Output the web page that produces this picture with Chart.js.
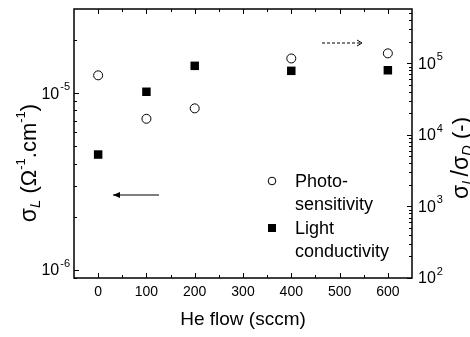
<!DOCTYPE html>
<html>
<head>
<meta charset="utf-8">
<script src="https://cdn.jsdelivr.net/npm/chart.js@4/dist/chart.umd.min.js"></script>
<style>
  html, body { margin: 0; padding: 0; background: #fff; }
  #wrap { width: 470px; height: 337px; }
</style>
</head>
<body>
<div id="wrap"><canvas id="c" width="470" height="337"></canvas></div>
<script>
// He flow values (sccm)
const heFlow = [0, 100, 200, 400, 600];
// light conductivity sigma_L (left axis)
const lightCond = [4.5e-6, 1.02e-5, 1.43e-5, 1.34e-5, 1.35e-5];
// photosensitivity sigma_L/sigma_D (right axis)
const photoSens = [6.8e4, 1.68e4, 2.35e4, 1.17e5, 1.38e5];

const xTicks = [0, 100, 200, 300, 400, 500, 600];
const leftExps = [-6, -5];
const rightExps = [2, 3, 4, 5];

const FONT = '"Liberation Sans", Arial, sans-serif';

// draws "10" with a raised exponent
function drawPow(ctx, exp, x, y, align) {
  ctx.save();
  ctx.textBaseline = 'middle';
  ctx.font = '16px ' + FONT;
  const base = '10';
  const sup = String(exp);
  const bw = ctx.measureText(base).width;
  ctx.font = '11px ' + FONT;
  const sw = ctx.measureText(sup).width;
  let x0 = align === 'right' ? x - bw - sw - 1 : x;
  ctx.font = '16px ' + FONT;
  ctx.textAlign = 'left';
  ctx.fillText(base, x0, y);
  ctx.font = '11px ' + FONT;
  ctx.fillText(sup, x0 + bw + 1, y - 7);
  ctx.restore();
}

function arrow(ctx, x1, x2, y, dashed) {
  ctx.save();
  ctx.strokeStyle = '#000';
  ctx.fillStyle = '#000';
  ctx.lineWidth = 1;
  if (dashed) ctx.setLineDash([3, 2]);
  ctx.beginPath();
  ctx.moveTo(x1, y);
  ctx.lineTo(x2, y);
  ctx.stroke();
  ctx.setLineDash([]);
  const d = x2 > x1 ? 1 : -1;
  ctx.beginPath();
  if (dashed) {
    ctx.moveTo(x2 - d * 5, y - 3);
    ctx.lineTo(x2, y);
    ctx.lineTo(x2 - d * 5, y + 3);
    ctx.stroke();
  } else {
    ctx.moveTo(x2, y);
    ctx.lineTo(x2 - d * 7, y - 3);
    ctx.lineTo(x2 - d * 7, y + 3);
    ctx.closePath();
    ctx.fill();
  }
  ctx.restore();
}

function richText(ctx, parts, cx0, cy, rotate) {
  ctx.save();
  ctx.translate(cx0, cy);
  if (rotate) ctx.rotate(-Math.PI / 2);
  ctx.textAlign = 'left';
  ctx.textBaseline = 'middle';
  let total = 0;
  parts.forEach(p => { ctx.font = p[1] + 'px ' + FONT; total += ctx.measureText(p[0]).width; });
  let cx = -total / 2;
  parts.forEach(p => {
    ctx.font = (p[3] ? 'italic ' : '') + p[1] + 'px ' + FONT;
    ctx.fillText(p[0], cx, p[2]);
    cx += ctx.measureText(p[0]).width;
  });
  ctx.restore();
}

const framePlugin = {
  id: 'frame',
  afterDraw(chart) {
    const ctx = chart.ctx;
    const a = chart.chartArea;
    const sx = chart.scales.x, sl = chart.scales.yL, sr = chart.scales.yR;
    ctx.save();
    ctx.strokeStyle = '#000';
    ctx.fillStyle = '#000';
    ctx.lineWidth = 1.5;
    ctx.strokeRect(a.left, a.top, a.right - a.left, a.bottom - a.top);
    ctx.lineWidth = 1;

    // x ticks, bottom and top
    ctx.beginPath();
    for (let v = -50; v <= 650; v += 50) {
      const px = Math.round(sx.getPixelForValue(v)) + 0.5;
      if (px <= a.left + 1 || px >= a.right - 1) continue;
      const len = v % 100 === 0 ? 5 : 3;
      ctx.moveTo(px, a.bottom); ctx.lineTo(px, a.bottom - len);
      ctx.moveTo(px, a.top); ctx.lineTo(px, a.top + len);
    }
    ctx.stroke();
    ctx.font = '14px ' + FONT;
    ctx.textAlign = 'center';
    ctx.textBaseline = 'middle';
    xTicks.forEach(v => ctx.fillText(String(v), sx.getPixelForValue(v), 292));

    // left ticks
    ctx.beginPath();
    for (let e = -7; e <= -4; e++) {
      for (let m = 1; m <= 9; m++) {
        const v = m * Math.pow(10, e);
        if (v < sl.min || v > sl.max) continue;
        const py = Math.round(sl.getPixelForValue(v)) + 0.5;
        const len = m === 1 ? 5 : 3;
        ctx.moveTo(a.left, py); ctx.lineTo(a.left + len, py);
      }
    }
    ctx.stroke();
    leftExps.forEach(e => drawPow(ctx, e, a.left - 4, sl.getPixelForValue(Math.pow(10, e)) + 1, 'right'));

    // right ticks
    ctx.beginPath();
    for (let e = 2; e <= 5; e++) {
      for (let m = 1; m <= 9; m++) {
        const v = m * Math.pow(10, e);
        if (v < sr.min || v > sr.max) continue;
        const py = Math.round(sr.getPixelForValue(v)) + 0.5;
        const len = m === 1 ? 5 : 3;
        ctx.moveTo(a.right, py); ctx.lineTo(a.right - len, py);
      }
    }
    ctx.stroke();
    rightExps.forEach(e => drawPow(ctx, e, a.right + 6, sr.getPixelForValue(Math.pow(10, e)) + 1, 'left'));

    // axis titles
    ctx.font = '19px ' + FONT;
    ctx.textAlign = 'center';
    ctx.fillText('He flow (sccm)', (a.left + a.right) / 2, 320);

    richText(ctx, [['σ', 23, 0], ['L', 15, 6, true], [' (Ω', 22, 0], ['-1', 13, -9], ['.cm', 22, 0], ['-1', 13, -9], [')', 22, 0]], 30, 163, true);
    richText(ctx, [['σ', 23, 0], ['L', 15, 6, true], ['/σ', 23, 0], ['D', 15, 6, true], [' (-)', 22, 0]], 462, 158, true);

    // arrows
    arrow(ctx, 159, 113, 195, false);
    arrow(ctx, 322, 362, 43, true);

    // legend
    ctx.font = '18px ' + FONT;
    ctx.textAlign = 'left';
    ctx.textBaseline = 'middle';
    ctx.beginPath();
    ctx.arc(272, 181, 3.8, 0, Math.PI * 2);
    ctx.stroke();
    ctx.fillText('Photo-', 295, 182);
    ctx.fillText('sensitivity', 295, 205);
    ctx.fillRect(268, 224, 8, 8);
    ctx.fillText('Light', 295, 229);
    ctx.fillText('conductivity', 295, 252);
    ctx.restore();
  }
};

new Chart(document.getElementById('c'), {
  type: 'scatter',
  data: {
    datasets: [
      {
        label: 'Photo-sensitivity',
        data: heFlow.map((x, i) => ({ x: x, y: photoSens[i] })),
        yAxisID: 'yR',
        pointStyle: 'circle',
        pointRadius: 4.5,
        borderWidth: 1,
        borderColor: '#000',
        backgroundColor: '#fff'
      },
      {
        label: 'Light conductivity',
        data: heFlow.map((x, i) => ({ x: x, y: lightCond[i] })),
        yAxisID: 'yL',
        pointStyle: 'rect',
        pointRadius: 6,
        borderWidth: 0,
        borderColor: '#000',
        backgroundColor: '#000'
      }
    ]
  },
  options: {
    responsive: false,
    animation: false,
    events: [],
    layout: { padding: { left: 74, top: 9, right: 58, bottom: 59 } },
    plugins: { legend: { display: false }, tooltip: { enabled: false } },
    scales: {
      x: { type: 'linear', min: -50, max: 650, display: false },
      yL: { type: 'logarithmic', position: 'left', min: 9e-7, max: 3e-5, display: false },
      yR: { type: 'logarithmic', position: 'right', min: 100, max: 5.75e5, display: false }
    }
  },
  plugins: [framePlugin]
});
</script>
</body>
</html>
